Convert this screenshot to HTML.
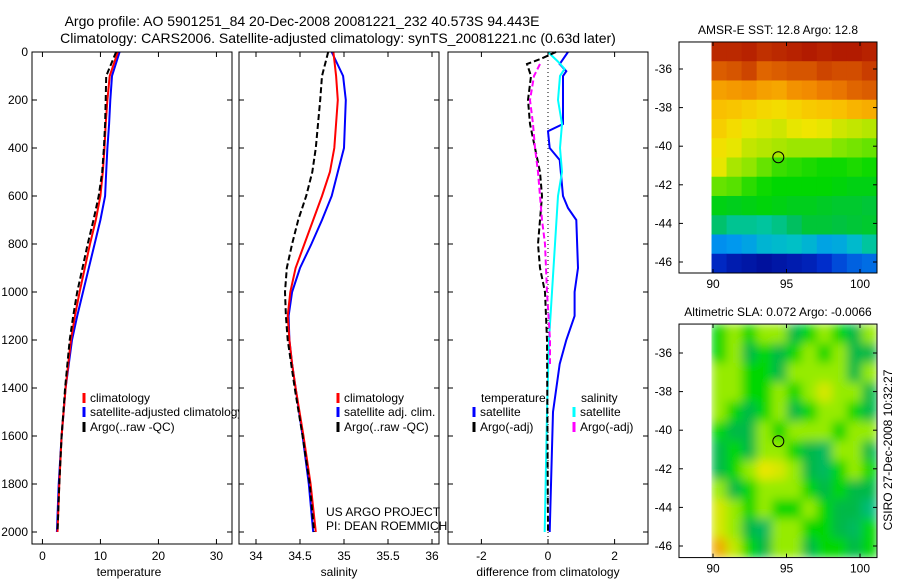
<!DOCTYPE html>
<html><head><meta charset="utf-8"><style>
html,body{margin:0;padding:0;background:#fff}
svg{display:block;font-family:"Liberation Sans",sans-serif}
text{fill:#000}
</style></head><body>
<svg id="fig" xmlns="http://www.w3.org/2000/svg" width="900" height="580" viewBox="0 0 900 580">
<defs>
<filter id="blur" x="0" y="0" width="1" height="1"><feGaussianBlur stdDeviation="5" edgeMode="duplicate"/></filter>
<clipPath id="c1"><rect x="711" y="42" width="166" height="231"/></clipPath>
<clipPath id="c2"><rect x="711" y="324" width="166" height="233"/></clipPath>
</defs>
<text x="302" y="26" font-size="14" text-anchor="middle">Argo profile: AO 5901251_84 20-Dec-2008 20081221_232 40.573S 94.443E</text>
<text x="338" y="43" font-size="14" text-anchor="middle">Climatology: CARS2006. Satellite-adjusted climatology: synTS_20081221.nc (0.63d later)</text>
<g id="g"></g>
</svg>
<script>
// ---- data ----
const depthTicks=[0,200,400,600,800,1000,1200,1400,1600,1800,2000];
const tempTicks=[0,10,20,30];
const salTicks=[34,34.5,35,35.5,36];
const diffTicks=[-2,0,2];
const tDepth=[0,100,200,300,400,500,600,700,800,900,1000,1100,1200,1400,1600,1800,2000];
const tempArgo=[12.7,11.0,10.9,10.8,10.6,10.3,9.7,8.8,7.8,6.9,6.0,5.3,4.7,3.9,3.3,2.9,2.6];
const tempClim=[13.0,11.6,11.2,10.9,10.7,10.4,10.0,9.2,8.2,7.3,6.4,5.6,4.9,4.0,3.3,2.9,2.6];
const tempSat=[13.3,12.0,11.7,11.5,11.2,11.0,10.8,10.0,9.0,8.0,7.0,6.0,5.1,4.0,3.3,2.8,2.5];
const sDepth=[0,100,200,400,500,600,700,800,900,1000,1100,1200,1300,1400,1600,1800,2000];
const salArgo=[34.82,34.75,34.73,34.68,34.64,34.57,34.48,34.41,34.35,34.33,34.34,34.36,34.40,34.44,34.53,34.61,34.66];
const salClim=[34.88,34.91,34.93,34.89,34.84,34.75,34.65,34.55,34.45,34.39,34.36,34.38,34.41,34.45,34.54,34.62,34.68];
const salSat=[34.86,34.99,35.02,35.0,34.93,34.86,34.75,34.63,34.50,34.41,34.37,34.38,34.41,34.45,34.53,34.60,34.65];
const dDepth=[0,50,80,100,300,330,400,450,600,650,700,900,1000,1100,1200,1300,1500,2000];
const diffTempSat=[0.6,0.35,0.55,0.45,0.45,0.0,0.05,0.35,0.45,0.6,0.85,0.9,0.8,0.8,0.55,0.35,0.15,0.05];
const cDepth=[0,40,70,100,200,300,400,500,600,800,1000,1200,1500,2000];
const diffSalSat=[0.0,0.3,0.5,0.36,0.3,0.42,0.36,0.42,0.3,0.21,0.12,0.03,-0.03,-0.1];
const aDepth=[0,30,50,100,200,300,400,500,600,700,800,900,1000,1100,1200,2000];
const diffTempArgo=[0.24,-0.24,-0.63,-0.51,-0.6,-0.54,-0.39,-0.24,-0.18,-0.24,-0.3,-0.24,-0.09,-0.06,-0.03,0.0];
const mDepth=[50,100,200,300,400,500,600,700,800,900,1000,1200,1300];
const diffSalArgo=[-0.24,-0.42,-0.54,-0.45,-0.39,-0.3,-0.24,-0.18,-0.09,-0.06,-0.03,0.06,0.06];
const mapLonTicks=[90,95,100];
const mapLatTicks=[-36,-38,-40,-42,-44,-46];
const sstGrid=[
[16.6,16.6,16.7,16.5,16.6,16.7,16.8,16.7,16.8,16.8,16.7],
[15.9,16.0,16.2,15.8,15.9,16.0,16.0,16.2,16.1,16.1,16.3],
[15.0,15.1,15.2,15.0,14.9,15.2,15.3,15.5,15.6,15.8,15.9],
[14.5,14.4,14.2,14.0,13.9,14.1,14.3,14.4,14.5,14.7,14.8],
[14.2,13.9,13.6,13.5,13.4,13.6,13.7,13.6,13.4,13.3,13.2],
[13.8,13.6,13.3,13.2,13.1,13.0,13.0,13.0,12.8,12.7,12.6],
[13.6,13.1,12.9,12.6,12.3,12.2,12.1,12.0,12.0,12.1,12.0],
[12.6,12.5,12.2,12.0,11.9,11.9,11.9,11.9,11.8,11.7,11.7],
[11.7,11.6,11.7,11.8,11.7,11.6,11.6,11.5,11.4,11.4,11.3],
[10.8,10.5,10.5,10.4,10.6,10.9,11.3,11.3,11.2,11.3,11.4],
[9.2,9.3,9.5,9.8,9.9,10.0,9.8,9.5,9.6,9.9,10.4],
[8.2,8.0,7.9,7.8,7.9,8.0,8.1,8.3,8.6,8.8,8.9]];
const slaGrid=[
[0,0.08,0,0.08,0.08,-0.08,0,0.08,0,-0.08,0.08],
[0,0.08,-0.08,0,-0.08,0,0.08,0,0.08,-0.08,-0.08],
[0.08,0.08,0,0,-0.08,0.08,0.08,0.08,0.08,-0.08,0.08],
[0.08,0.08,0,0,0.08,0,0.08,0.14,0.08,0.08,-0.08],
[0.08,0,-0.08,0,0.08,-0.08,0,0.08,0.08,0,-0.08],
[0,-0.08,-0.08,0.08,0,0.08,0.08,0.08,0,0.08,0.08],
[-0.08,0,-0.08,0.08,0.08,0,-0.08,-0.1,0.08,0.08,-0.08],
[-0.08,0,0.08,0.16,0.14,0.08,-0.08,-0.1,0,0.08,0],
[0.08,-0.08,0,0.08,0.08,0.08,0,-0.08,0,-0.08,-0.08],
[0.14,0.08,0,0.08,0,0,0.08,0,-0.08,-0.08,-0.12],
[0.14,0.08,-0.08,-0.1,0.08,0.08,0,0,-0.08,-0.1,0],
[0.22,0.12,0,-0.08,0.08,0.08,-0.08,0,0,-0.08,0]];
// ---- scales ----
const NS='http://www.w3.org/2000/svg';
const G=document.getElementById('g');
function el(tag,attrs,parent){const e=document.createElementNS(NS,tag);for(const k in attrs)e.setAttribute(k,attrs[k]);(parent||G).appendChild(e);return e;}
const dY=d=>52+d*0.24;
const p1x=v=>32+(v+1.8)*5.8;
const p2x=v=>256+(v-34)*88;
const p3x=v=>548+v*33.3;
const lonX=l=>713+(l-90)*14.7;
const lat1=l=>69+(-36-l)*19.3;
const lat2=l=>353+(-36-l)*19.3;
function frame(x0,y0,x1,y1,name){
  const r=el('rect',{x:x0,y:y0,width:x1-x0,height:y1-y0,fill:'none',stroke:'#000','stroke-width':1});
  
  
}
function line(xs,ys,xf,color,dash,name){
  const pts=xs.map((v,i)=>xf(v).toFixed(1)+','+dY(ys[i]).toFixed(1)).join(' ');
  const p=el('polyline',{points:pts,fill:'none',stroke:color,'stroke-width':2});
  if(dash)p.setAttribute('stroke-dasharray',dash);
  
  
}
function txt(x,y,s,opts){const t=el('text',Object.assign({x:x,y:y,'font-size':12},opts||{}));t.textContent=s;return t;}
function profileAxes(x0,x1,xf,ticks,labelLeft,fmt,xl,xlx,name){
  frame(x0,52,x1,544,name+'-frame');
  depthTicks.forEach(d=>{
    const y=dY(d);
    el('line',{x1:x0,y1:y,x2:x0+5,y2:y,stroke:'#000'});
    el('line',{x1:x1,y1:y,x2:x1-5,y2:y,stroke:'#000'});
    if(labelLeft){const t=txt(x0-4,y+4,String(d),{'text-anchor':'end'});
      
      }
  });
  ticks.forEach(v=>{
    const x=xf(v);
    el('line',{x1:x,y1:52,x2:x,y2:57,stroke:'#000'});
    el('line',{x1:x,y1:544,x2:x,y2:539,stroke:'#000'});
    const t=txt(x,560,fmt(v),{'text-anchor':'middle'});
    
    
  });
  const t=txt(xlx,576,xl,{'text-anchor':'middle'});
  
  
}
function legendEntry(x,y,color,label,name){
  const l=el('line',{x1:x,y1:y-9,x2:x,y2:y+1,stroke:color,'stroke-width':3});
  
  
  const t=txt(x+6,y,label);
  
  
}
// panel 1
line(tempSat,tDepth,p1x,'#0000ff',null,'temp-satellite-line');
line(tempClim,tDepth,p1x,'#ff0000',null,'temp-climatology-line');
line(tempArgo,tDepth,p1x,'#000',"6,3",'temp-argo-line');
profileAxes(32,232,p1x,tempTicks,true,v=>String(v),'temperature',129,'temperature-panel');
legendEntry(84,402,'#ff0000','climatology','legend-climatology');
legendEntry(84,416,'#0000ff','satellite-adjusted climatology','legend-satellite-adjusted');
legendEntry(84,431,'#000','Argo(..raw -QC)','legend-argo-raw');
el('rect',{x:239,y:52,width:200,height:492,fill:'#fff'});
// panel 2
line(salSat,sDepth,p2x,'#0000ff',null,'sal-satellite-line');
line(salClim,sDepth,p2x,'#ff0000',null,'sal-climatology-line');
line(salArgo,sDepth,p2x,'#000',"6,3",'sal-argo-line');
profileAxes(239,439,p2x,salTicks,false,v=>String(v),'salinity',339,'salinity-panel');
legendEntry(338,402,'#ff0000','climatology','legend-sal-climatology');
legendEntry(338,416,'#0000ff','satellite adj. clim.','legend-sal-satellite');
legendEntry(338,431,'#000','Argo(..raw -QC)','legend-sal-argo');
let t=txt(326,516,'US ARGO PROJECT');
t=txt(326,530,'PI: DEAN ROEMMICH');
el('rect',{x:448,y:52,width:200,height:492,fill:'#fff'});
// panel 3
const z=el('line',{x1:p3x(0),y1:52,x2:p3x(0),y2:544,stroke:'#000','stroke-dasharray':'1,3'});

line(diffTempSat,dDepth,p3x,'#0000ff',null,'diff-temp-satellite-line');
line(diffSalSat,cDepth,p3x,'#00ffff',null,'diff-sal-satellite-line');
line(diffTempArgo,aDepth,p3x,'#000',"6,3",'diff-temp-argo-line');
line(diffSalArgo,mDepth,p3x,'#ff00ff',"6,3",'diff-sal-argo-line');
profileAxes(448,648,p3x,diffTicks,false,v=>String(v),'difference from climatology',548,'difference-panel');
t=txt(481,402,'temperature');
t=txt(581,402,'salinity');
legendEntry(474,416,'#0000ff','satellite','legend-diff-temp-satellite');
legendEntry(474,431,'#000','Argo(-adj)','legend-diff-temp-argo');
legendEntry(574,416,'#00ffff','satellite','legend-diff-sal-satellite');
legendEntry(574,431,'#ff00ff','Argo(-adj)','legend-diff-sal-argo');
// maps
function cmap(stops,f){f=Math.max(0,Math.min(1,f));const n=stops.length-1;const i=Math.min(n-1,Math.floor(f*n));const r=f*n-i;const a=stops[i],b=stops[i+1];return 'rgb('+a.map((c,k)=>Math.round(c+(b[k]-c)*r)).join(',')+')';}
const sstStops=[[0,0,130],[0,50,210],[0,150,240],[0,200,190],[0,190,80],[0,215,0],[130,230,0],[240,230,0],[250,190,0],[240,130,0],[200,60,0],[160,0,0]];
const slaStops=[[0,190,170],[0,185,70],[0,215,0],[150,235,0],[235,230,0],[240,150,0]];
function map(grid,latf,top,bot,clip,vmin,vmax,stops,title,name,blur){
  const rows=grid.length,cols=grid[0].length;
  const grp=el('g',{'clip-path':'url(#'+clip+')'});
  const inner=el('g',blur?{filter:'url(#blur)'}:{},grp);
  const lon0=89.9,lon1=101.15,latTop=top,latBot=bot;
  const cw=(lon1-lon0)/cols,rh=(latTop-latBot)/rows;
  grid.forEach((row,i)=>row.forEach((v,j)=>{
    const x=lonX(lon0+j*cw),y=latf(latTop-i*rh);
    const r=el('rect',{x:x.toFixed(2),y:y.toFixed(2),width:(lonX(lon0+(j+1)*cw)-x+0.6).toFixed(2),height:(latf(latTop-(i+1)*rh)-y+0.6).toFixed(2),fill:cmap(stops,(v-vmin)/(vmax-vmin))},inner);
    
    
  }));
  const y0=latf(top)-0,y1=latf(bot);
  frame(679,latf(top),877,latf(bot),name+'-frame');
  mapLonTicks.forEach(l=>{const x=lonX(l);
    el('line',{x1:x,y1:y0,x2:x,y2:y0+4,stroke:'#000'});el('line',{x1:x,y1:y1,x2:x,y2:y1-4,stroke:'#000'});
    const tt=txt(x,y1+15,String(l),{'text-anchor':'middle'});});
  mapLatTicks.forEach(l=>{const y=latf(l);
    el('line',{x1:679,y1:y,x2:683,y2:y,stroke:'#000'});el('line',{x1:877,y1:y,x2:873,y2:y,stroke:'#000'});
    const tt=txt(672,y+4,String(l),{'text-anchor':'end'});});
  const c=el('circle',{cx:lonX(94.443),cy:latf(-40.573),r:5.5,fill:'none',stroke:'#000','stroke-width':1});
  
  const tt=txt(778,latf(top)-8,title,{'text-anchor':'middle'});
}
map(sstGrid,lat1,-34.6,-46.57,'c1',7.5,17.2,sstStops,'AMSR-E SST: 12.8 Argo: 12.8','sst-map',false);
map(slaGrid,lat2,-34.5,-46.6,'c2',-0.16,0.24,slaStops,'Altimetric SLA: 0.072 Argo: -0.0066','sla-map',true);
t=txt(0,0,'CSIRO 27-Dec-2008 10:32:27',{'text-anchor':'middle',transform:'translate(892,450) rotate(-90)'});

</script>
</body></html>
